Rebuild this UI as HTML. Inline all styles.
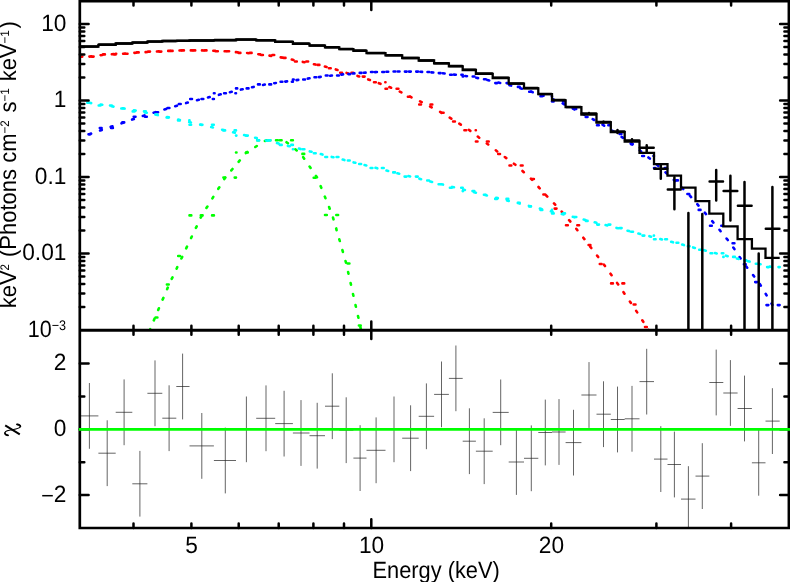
<!DOCTYPE html>
<html><head><meta charset="utf-8"><title>spectrum</title>
<style>html,body{margin:0;padding:0;background:#fff}svg{display:block;will-change:transform}</style></head>
<body>
<svg width="790" height="582" viewBox="0 0 790 582">
<rect width="790" height="582" fill="#fff"/>
<defs><clipPath id="cu"><rect x="79.8" y="1.1" width="709.1" height="329.2"/></clipPath><clipPath id="cl"><rect x="79.8" y="330.3" width="709.1" height="197.7"/></clipPath></defs>
<g clip-path="url(#cu)">
<path d="M89.4 56.6L91.2 56.4M100.6 55.2L102.4 55.0M111.8 54.2L113.6 54.1M123.1 53.7L124.9 53.6M134.4 52.9L136.2 52.7M145.6 52.1L147.4 52.0M156.9 51.5L158.7 51.4M168.2 50.9L170.0 50.9M179.5 50.5L181.3 50.4M190.8 50.4L192.6 50.4M202.0 50.4L203.8 50.5M213.3 50.8L215.1 50.9M224.6 51.2L226.4 51.3M235.9 52.1L237.7 52.2M247.1 53.0L248.9 53.2M258.3 54.2L260.1 54.4M269.5 55.6L271.3 55.9M280.7 57.4L282.5 57.6M291.8 59.5L293.5 59.9M302.8 61.9L304.6 62.3M313.9 64.2L315.6 64.6M324.9 66.6L326.6 67.0M335.8 69.4L337.5 70.0M346.6 72.9L348.3 73.4M357.5 75.9L359.2 76.4M368.2 79.4L369.9 80.0M378.8 83.2L380.5 83.8M389.4 87.1L391.1 87.7M399.8 91.6L401.4 92.4M409.9 96.5L411.5 97.3M420.1 101.4L421.7 102.2M430.1 106.5L431.7 107.4M440.1 111.9L441.6 112.8M449.7 117.7L451.3 118.7M459.3 123.7L460.8 124.7M468.8 129.8L470.3 130.9M477.8 136.6L479.2 137.7M486.8 143.5L488.2 144.5M495.8 150.3L497.2 151.4M504.8 157.0L506.3 158.1M513.9 163.7L515.4 164.8M522.5 171.0L523.8 172.2M530.9 178.6L532.1 179.9M538.5 187.0L539.7 188.3M546.1 195.3L547.3 196.6M554.0 203.4L555.2 204.7M561.7 211.6L562.8 213.0M569.1 220.2L570.3 221.5M576.3 228.8L577.4 230.2M583.3 237.7L584.4 239.1M590.2 246.6L591.3 248.0M597.1 255.6L598.2 257.0M603.9 264.6L605.0 266.0M610.5 273.7L611.6 275.2M617.1 282.9L618.2 284.4M623.5 292.2L624.5 293.7M629.9 301.5L630.9 303.0M636.2 310.9L637.2 312.4M642.3 320.3L643.3 321.8M648.4 329.8L649.4 331.4M654.3 339.5L655.3 341.0M660.2 349.1L661.2 350.6M666.0 358.8L666.9 360.3M671.7 368.5L672.7 370.1M677.6 378.2L678.5 379.7M683.4 387.8L684.4 389.4M689.3 397.5L690.2 399.1M694.9 407.3L695.8 408.8M700.6 417.0L701.5 418.6M706.2 426.8L707.1 428.4M711.9 436.6L712.8 438.1M717.6 446.3L718.5 447.9M723.3 456.1L724.2 457.6M729.1 465.8L730.0 467.3M734.8 475.5L735.7 477.1M740.5 485.2L741.4 486.8M746.3 495.0L747.2 496.5M752.0 504.7L752.9 506.2M757.8 514.4L758.7 515.9M763.4 524.2L764.3 525.7M769.0 534.0L769.9 535.6" stroke="#ff0000" stroke-width="2.6" stroke-linecap="round" fill="none"/>
<path d="M80.5 56.6L82.3 56.6M91.8 56.6L93.6 56.6M103.1 54.4L104.9 54.4M114.4 54.4L115.7 54.4M115.7 53.7L116.2 53.7M125.7 53.7L127.5 53.7M136.9 52.4L138.7 52.4M148.2 51.6L150.0 51.6M159.5 51.6L161.3 51.6M170.8 50.9L172.6 50.9M182.1 50.4L183.9 50.4M193.4 50.4L195.2 50.4M204.7 50.4L206.5 50.4M216.0 51.2L217.8 51.2M227.3 51.2L229.1 51.2M238.6 52.9L240.4 52.9M249.8 52.9L251.6 52.9M261.1 55.0L262.9 55.0M272.4 55.0L274.2 55.0M283.7 57.9L285.5 57.9M295.0 61.5L296.8 61.5M306.3 61.5L308.1 61.5M317.6 64.9L319.4 64.9M328.9 68.3L330.7 68.3M340.2 72.8L342.0 72.8M351.5 72.8L353.3 72.8M362.8 76.6L364.6 76.6M374.0 82.2L375.8 82.2M385.3 82.2L385.5 82.2M385.5 88.8L387.1 88.8M396.6 88.8L398.4 88.8M407.9 96.8L409.7 96.8M419.2 104.5L421.0 104.5M430.5 104.5L432.3 104.5M441.8 112.7L443.6 112.7M453.1 121.5L454.9 121.5M464.4 130.2L466.2 130.2M475.7 130.2L475.9 130.2M475.9 141.5L477.5 141.5M486.9 141.5L488.7 141.5M498.2 154.0L500.0 154.0M509.5 165.5L511.3 165.5M520.8 165.5L522.6 165.5M532.1 179.0L533.9 179.0M543.4 194.5L545.2 194.5M554.7 208.6L556.5 208.6M566.0 225.2L567.8 225.2M577.3 225.2L579.1 225.2M588.6 245.0L590.4 245.0M599.8 264.0L601.6 264.0M611.1 283.4L612.9 283.4M622.4 283.4L624.2 283.4M633.7 304.5L635.5 304.5M645.0 327.0L646.8 327.0M656.3 350.0L658.1 350.0M667.6 373.0L669.4 373.0M678.9 373.0L680.7 373.0M690.2 396.0L692.0 396.0M701.4 420.0L703.2 420.0M712.7 444.0L714.5 444.0M724.0 468.0L725.8 468.0M735.3 468.0L737.1 468.0M746.6 492.0L748.4 492.0M757.9 516.0L759.7 516.0M769.2 540.0L771.0 540.0" stroke="#ff0000" stroke-width="2.6" stroke-linecap="round" fill="none"/>
<path d="M140.9 351.7L141.5 350.0M145.2 341.2L145.9 339.6M149.5 330.8L150.2 329.2M153.8 320.4L154.5 318.7M158.2 310.0L158.9 308.3M162.6 299.6L163.4 297.9M167.1 289.2L167.8 287.6M171.7 278.9L172.5 277.3M176.6 268.7L177.3 267.1M181.4 258.5L182.2 256.9M186.2 248.3L187.0 246.7M191.1 238.1L191.8 236.5M195.9 227.9L196.7 226.3M200.7 217.7L201.5 216.1M206.4 208.0L207.4 206.5M212.4 198.4L213.3 196.9M218.3 188.8L219.3 187.3M224.3 179.2L225.2 177.7M231.3 170.4L232.5 169.0M238.6 161.8L239.8 160.4M245.9 153.1L247.2 152.0M255.3 147.0L256.8 146.0M264.9 141.0L266.5 140.3M276.0 140.2L277.8 140.2M286.5 142.2L287.9 143.3M295.3 149.3L296.7 150.4M303.2 157.2L304.2 158.7M309.6 166.5L310.6 168.0M315.9 175.9L317.0 177.3M320.6 186.1L321.3 187.8M324.8 196.6L325.5 198.2M329.1 207.0L329.7 208.7M333.0 217.6L333.5 219.3M336.2 228.4L336.6 230.2M339.3 239.3L339.8 241.0M342.4 250.1L342.9 251.9M345.5 261.0L346.0 262.7M348.1 272.0L348.5 273.7M350.6 283.0L351.0 284.7M353.0 294.0L353.4 295.8M355.5 305.0L355.9 306.8M358.0 316.0L358.4 317.8M360.4 327.1L360.8 328.8M362.8 338.1L363.2 339.9M365.2 349.1L365.6 350.9M367.5 360.2L367.9 361.9M369.9 371.2L370.3 373.0M372.3 382.2L372.7 384.0M374.7 393.3L375.0 395.0" stroke="#00ff00" stroke-width="2.6" stroke-linecap="round" fill="none"/>
<path d="M133.1 354.0L134.9 354.0M144.3 354.0L146.1 354.0M155.6 317.5L157.4 317.5M166.9 284.5L168.7 284.5M178.2 256.0L180.0 256.0M189.5 215.4L191.3 215.4M200.8 215.4L202.6 215.4M212.1 215.4L213.9 215.4M223.4 177.6L225.2 177.6M234.7 177.6L236.0 177.6M236.0 152.5L236.5 152.5M246.0 152.5L247.8 152.5M257.2 140.3L259.0 140.3M268.5 140.3L270.3 140.3M279.8 140.2L281.6 140.2M291.1 140.2L292.9 140.2M302.4 153.9L304.2 153.9M313.7 177.7L315.5 177.7M325.0 215.0L326.8 215.0M336.3 215.0L338.1 215.0M347.6 263.5L349.4 263.5M358.9 325.5L360.7 325.5M370.2 400.0L372.0 400.0M381.4 400.0L383.2 400.0" stroke="#00ff00" stroke-width="2.6" stroke-linecap="round" fill="none"/>
<path d="M89.4 134.2L91.1 133.6M100.1 130.5L101.8 129.9M110.7 126.8L112.5 126.3M121.5 123.3L123.2 122.7M132.1 119.6L133.8 119.0M142.8 115.9L144.5 115.4M153.6 112.7L155.4 112.2M164.4 109.4L166.2 108.9M175.2 106.2L177.0 105.7M186.1 103.1L187.8 102.6M197.0 100.2L198.8 99.8M208.0 97.5L209.7 97.0M218.9 94.8L220.7 94.3M229.9 92.2L231.7 91.8M240.9 89.6L242.7 89.2M252.0 87.3L253.7 86.9M263.0 85.0L264.8 84.6M274.2 83.2L275.9 83.0M285.3 81.6L287.1 81.4M296.5 80.1L298.3 79.9M307.7 78.6L309.5 78.3M318.9 77.1L320.7 76.9M330.1 75.8L331.9 75.5M341.3 74.6L343.1 74.4M352.6 73.5L354.4 73.4M363.8 72.7L365.6 72.6M375.1 72.1L376.9 72.0M386.4 71.7L388.2 71.7M397.7 71.5L399.5 71.5M409.0 71.6L410.8 71.6M420.3 71.8L422.1 71.9M431.5 72.4L433.3 72.5M442.8 73.3L444.6 73.5M454.0 74.6L455.8 74.8M465.2 76.0L467.0 76.2M476.3 77.8L478.1 78.1M487.4 80.0L489.2 80.4M498.4 82.6L500.2 83.0M509.4 85.2L511.1 85.6M520.3 88.2L522.0 88.7M531.0 91.6L532.7 92.2M541.8 95.1L543.5 95.7M552.4 99.0L554.0 99.6M562.7 103.4L564.3 104.3M572.8 108.6L574.4 109.4M582.8 113.8L584.4 114.6M592.7 119.1L594.3 120.0M602.5 124.7L604.1 125.7M612.1 130.7L613.7 131.6M621.6 136.9L623.1 137.9M630.8 143.3L632.3 144.4M639.7 150.3L641.1 151.5M648.4 157.5L649.8 158.6M657.0 164.8L658.4 166.0M665.5 172.3L666.8 173.5M673.8 179.9L675.1 181.1M681.9 187.7L683.2 189.0M689.9 195.7L691.1 197.1M697.3 204.2L698.5 205.6M704.8 212.7L706.0 214.1M712.2 221.2L713.4 222.6M719.5 229.8L720.6 231.2M726.6 238.6L727.8 240.0M733.3 247.6L734.4 249.1M739.6 257.0L740.6 258.5M746.1 266.3L747.2 267.7M753.1 275.1L754.2 276.5M759.9 284.1L760.8 285.7M765.7 293.8L766.6 295.4M771.5 303.5L772.4 305.0" stroke="#0000ff" stroke-width="2.6" stroke-linecap="round" fill="none"/>
<path d="M88.5 134.2L90.3 134.2M99.8 128.0L101.6 128.0M111.1 128.0L112.9 128.0M122.4 122.4L124.2 122.4M133.7 116.8L135.5 116.8M145.0 116.8L146.8 116.8M156.3 112.3L158.1 112.3M167.6 108.0L169.4 108.0M178.9 104.0L180.7 104.0M190.2 99.0L192.0 99.0M201.5 99.0L203.3 99.0M212.8 99.0L213.9 99.0M213.9 93.2L214.6 93.2M224.1 93.2L225.9 93.2M235.4 93.2L236.0 93.2M236.0 88.4L237.2 88.4M246.7 88.4L248.5 88.4M258.0 84.4L259.8 84.4M269.3 84.4L271.1 84.4M280.6 81.8L282.4 81.8M291.9 81.8L292.9 81.8M292.9 79.5L293.7 79.5M303.2 79.5L305.0 79.5M314.5 77.3L316.3 77.3M325.8 75.5L327.6 75.5M337.1 75.5L338.9 75.5M348.4 74.1L350.2 74.1M359.7 72.9L361.5 72.9M371.0 72.0L372.8 72.0M382.3 72.0L384.1 72.0M393.6 71.5L395.4 71.5M404.9 71.6L406.7 71.6M416.2 71.6L418.0 71.6M427.5 72.0L429.3 72.0M438.8 73.1L440.6 73.1M450.1 74.8L451.9 74.8M461.4 74.8L462.7 74.8M462.7 76.5L463.2 76.5M472.7 76.5L474.5 76.5M484.0 79.3L485.8 79.3M495.3 83.1L497.1 83.1M506.6 83.1L508.4 83.1M517.9 86.9L519.7 86.9M529.2 91.7L531.0 91.7M540.5 96.3L542.3 96.3M551.8 96.3L552.0 96.3M552.0 101.5L553.6 101.5M563.1 101.5L564.9 101.5M574.4 109.0L576.2 109.0M585.7 117.0L587.5 117.0M597.0 125.3L598.8 125.3M608.3 125.3L610.1 125.3M619.6 134.0L621.4 134.0M630.9 144.1L632.7 144.1M642.2 156.0L644.0 156.0M653.5 156.0L654.0 156.0M654.0 168.0L655.3 168.0M664.8 168.0L666.6 168.0M676.1 180.4L677.9 180.4M687.4 194.0L689.2 194.0M698.7 209.9L700.5 209.9M710.0 225.8L711.8 225.8M721.3 225.8L723.1 225.8M732.6 243.2L734.4 243.2M743.9 264.2L745.7 264.2M755.2 282.1L757.0 282.1M766.5 305.1L768.3 305.1M777.8 305.1L779.6 305.1" stroke="#0000ff" stroke-width="2.6" stroke-linecap="round" fill="none"/>
<path d="M89.4 102.8L91.2 103.1M100.6 104.5L102.3 104.8M111.7 106.3L113.5 106.6M122.8 108.2L124.6 108.6M133.9 110.3L135.7 110.6M145.0 112.5L146.8 112.8M156.1 114.7L157.8 115.1M167.1 117.1L168.9 117.4M178.2 119.5L179.9 119.9M189.2 122.0L190.9 122.4M200.2 124.5L201.9 124.9M211.2 127.1L212.9 127.5M222.1 129.7L223.9 130.1M233.1 132.3L234.9 132.7M244.1 135.0L245.8 135.4M255.1 137.7L256.8 138.1M266.0 140.4L267.8 140.8M277.0 143.1L278.7 143.6M287.9 145.9L289.7 146.3M298.9 148.6L300.6 149.1M309.8 151.4L311.6 151.8M320.8 154.1L322.5 154.6M331.7 156.9L333.5 157.3M342.7 159.6L344.4 160.1M353.6 162.4L355.4 162.8M364.6 165.1L366.3 165.5M375.5 167.8L377.3 168.3M386.5 170.6L388.2 171.0M397.4 173.3L399.2 173.7M408.4 176.0L410.1 176.5M419.4 178.7L421.1 179.2M430.3 181.5L432.1 181.9M441.3 184.2L443.0 184.6M452.2 186.9L454.0 187.3M463.2 189.6L464.9 190.0M474.2 192.3L475.9 192.7M485.1 195.0L486.9 195.4M496.1 197.7L497.8 198.1M507.0 200.4L508.8 200.9M518.0 203.1L519.7 203.6M528.9 205.9L530.7 206.3M539.9 208.6L541.6 209.0M550.9 211.3L552.6 211.8M561.8 214.1L563.6 214.5M572.8 216.8L574.5 217.2M583.7 219.6L585.5 220.0M594.7 222.3L596.4 222.8M605.6 225.1L607.3 225.5M616.5 227.9L618.3 228.3M627.5 230.7L629.2 231.1M638.4 233.5L640.2 233.9M649.4 236.2L651.1 236.7M660.3 239.0L662.0 239.5M671.2 241.8L673.0 242.3M682.2 244.6L683.9 245.1M693.1 247.4L694.9 247.9M704.1 250.2L705.8 250.7M715.0 253.0L716.7 253.4M726.0 255.7L727.7 256.2M736.9 258.5L738.7 258.9M747.9 261.2L749.6 261.6M758.8 263.9L760.6 264.3M769.8 266.5L771.6 266.9" stroke="#00ffff" stroke-width="2.6" stroke-linecap="round" fill="none"/>
<path d="M87.3 102.8L89.1 102.8M98.7 105.5L100.5 105.5M110.0 105.5L111.8 105.5M121.3 108.5L123.1 108.5M132.7 111.4L134.5 111.4M144.0 111.4L145.8 111.4M155.3 114.5L157.1 114.5M166.6 117.5L168.4 117.5M178.0 120.4L179.8 120.4M189.3 120.4L189.5 120.4M189.5 124.8L191.1 124.8M200.6 124.8L202.4 124.8M212.0 124.8L213.8 124.8M223.3 130.4L225.1 130.4M234.6 130.4L236.0 130.4M236.0 135.6L236.4 135.6M246.0 135.6L247.8 135.6M257.3 140.4L259.1 140.4M268.6 140.4L270.4 140.4M279.9 144.9L281.7 144.9M291.3 144.9L292.9 144.9M292.9 149.2L293.1 149.2M302.6 149.2L304.4 149.2M313.9 153.2L315.7 153.2M325.3 157.0L327.1 157.0M336.6 157.0L338.4 157.0M347.9 160.5L349.7 160.5M359.2 164.0L361.1 164.0M370.6 168.0L372.4 168.0M381.9 168.0L383.7 168.0M393.2 172.4L395.0 172.4M404.6 176.6L406.4 176.6M415.9 176.6L417.7 176.6M427.2 180.5L429.0 180.5M438.6 184.2L440.4 184.2M449.9 187.8L451.7 187.8M461.2 187.8L462.7 187.8M462.7 191.1L463.0 191.1M472.5 191.1L474.3 191.1M483.9 194.8L485.7 194.8M495.2 198.9L497.0 198.9M506.5 198.9L508.3 198.9M517.9 202.7L519.7 202.7M529.2 206.4L531.0 206.4M540.5 209.9L542.3 209.9M551.9 209.9L552.0 209.9M552.0 213.4L553.7 213.4M563.2 213.4L565.0 213.4M574.5 217.0L576.3 217.0M585.9 220.9L587.6 220.9M597.2 224.6L599.0 224.6M608.5 224.6L610.3 224.6M619.8 228.1L621.6 228.1M631.2 231.8L633.0 231.8M642.5 235.6L644.3 235.6M653.8 235.6L654.0 235.6M654.0 239.2L655.6 239.2M665.2 239.2L667.0 239.2M676.5 242.7L678.3 242.7M687.8 246.2L689.6 246.2M699.2 249.8L701.0 249.8M710.5 253.3L712.3 253.3M721.8 253.3L723.3 253.3M723.3 256.9L723.6 256.9M733.1 256.9L734.9 256.9M744.5 260.4L746.3 260.4M755.8 263.8L757.6 263.8M767.1 267.1L768.9 267.1M778.5 267.1L779.7 267.1" stroke="#00ffff" stroke-width="2.6" stroke-linecap="round" fill="none"/>
</g>
<g clip-path="url(#cu)" stroke="#000" fill="none">
<path d="M80.0 46.7H98.4V44.8H115.7V43.5H132.3V42.6H147.4V41.6H162.3V41.0H176.3V40.9H189.5V40.5H213.9V40.3H236.0V39.7H256.2V40.4H275.2V41.9H292.9V43.8H309.5V45.7H325.0V47.4H339.3V49.2H353.4V50.8H366.5V53.2H385.5V55.4H402.2V58.0H418.7V60.5H434.1V63.4H448.9V66.3H462.7V70.0H475.9V73.8H492.7V78.0H508.7V83.7H524.0V88.3H538.3V94.2H552.0V100.3H565.6V107.2H581.4V114.5H596.5V122.5H610.8V132.2H624.7V141.6H639.5V152.9H654.0V164.2H667.5V175.6H681.0V187.7H695.5V201.1H709.3V213.7H723.3V226.3H737.6V239.2H751.9V248.7H765.5V257.9H779.7" stroke-width="2.3" stroke-linejoin="miter"/>
<path d="M581.7 113.4H596.2M589.0 113.0V113.8M596.8 122.0H610.5M603.5 121.6V122.4M611.1 131.5H624.4M617.5 130.1V133.0M625.0 140.4H639.2M632.0 139.3V141.6M639.8 147.8H653.7M646.7 145.3V151.9M654.3 168.7H667.2M660.8 164.4V178.7M667.8 189.4H680.7M674.4 177.2V209.2M688.4 213.0V339.0M702.3 214.0V339.0M709.6 181.6H723.0M716.2 170.1V200.6M723.6 191.1H737.3M730.4 175.8V220.6M737.9 205.8H751.6M744.5 182.1V339.0M758.7 253.5V339.0M765.8 228.7H779.4M772.4 186.9V339.0M80.6 46.6H97.8M99.0 44.6H115.1M116.3 43.4H131.7M132.9 42.5H146.8M148.0 41.5H161.7M162.9 40.9H175.7M176.9 40.8H188.9M190.1 40.4H213.3M214.5 40.1H235.4M236.6 39.6H255.6M256.8 40.2H274.6M275.8 41.8H292.3M293.5 43.6H308.9M310.1 45.6H324.4M325.6 47.2H338.7M339.9 49.1H352.8M354.0 50.6H365.9M367.1 53.1H384.9M386.1 55.2H401.6M402.8 57.9H418.1M419.3 60.4H433.5M434.7 63.2H448.3M449.5 66.1H462.1M463.3 69.8H475.3M476.5 73.6H492.1M493.3 77.8H508.1M509.3 83.5H523.4M524.6 88.1H537.7M538.9 94.0H551.4M552.6 100.1H565.0M566.2 107.0H580.8" stroke-width="2.5" stroke-linecap="round"/>
</g>
<g clip-path="url(#cl)" stroke="#222" stroke-width="0.7" fill="none">
<path d="M80.0 415.9H98.4M89.4 383.0V448.8M98.4 453.2H115.7M107.2 420.3V486.1M115.7 412.3H132.3M124.1 379.4V445.2M132.3 483.8H147.4M139.9 450.9V516.6M147.4 393.3H162.3M155.0 360.4V426.2M162.3 418.2H176.3M169.1 385.3V451.1M176.3 386.5H189.5M182.6 353.6V419.4M189.5 445.9H213.9M201.8 413.0V478.8M213.9 460.5H236.0M225.3 427.6V493.4M236.0 429.4H256.2M246.4 396.5V462.2M256.2 418.3H275.2M266.0 385.4V451.2M275.2 423.6H292.9M284.1 390.8V456.5M292.9 433.0H309.5M301.0 400.1V465.9M309.5 435.7H325.0M317.2 402.8V468.6M325.0 406.2H339.3M332.3 373.3V439.1M339.3 430.2H353.4M346.2 397.3V463.1M353.4 458.1H366.5M360.1 425.2V491.0M366.5 450.3H385.5M376.1 417.4V483.2M385.5 429.4H402.2M394.0 396.5V462.2M402.2 438.2H418.7M410.6 405.3V471.1M418.7 416.3H434.1M426.4 383.4V449.2M434.1 394.4H448.9M441.5 361.5V427.2M448.9 378.4H462.7M455.9 345.5V411.2M462.7 441.2H475.9M469.4 408.3V474.1M475.9 451.2H492.7M484.2 418.3V484.1M492.7 412.4H508.7M500.7 379.5V445.2M508.7 462.0H524.0M516.4 429.1V494.9M524.0 458.3H538.3M531.3 425.4V491.2M538.3 432.5H552.0M545.3 399.6V465.4M552.0 432.0H565.6M559.0 399.1V464.9M565.6 442.6H581.4M573.5 409.8V475.5M581.4 395.0H596.5M589.0 362.1V427.9M596.5 414.2H610.8M603.5 381.3V447.1M610.8 419.5H624.7M617.5 386.6V452.4M624.7 418.8H639.5M632.0 385.9V451.7M639.5 381.6H654.0M646.7 348.8V414.5M654.0 459.1H667.5M660.8 426.2V492.0M667.5 464.5H681.0M674.4 431.6V497.4M681.0 499.1H695.5M688.4 466.2V532.0M695.5 476.1H709.3M702.3 443.2V509.0M709.3 382.5H723.3M716.2 349.6V415.4M723.3 393.0H737.6M730.4 360.1V425.9M737.6 408.5H751.9M744.5 375.6V441.4M751.9 462.8H765.5M758.7 429.9V495.7M765.5 421.1H779.7M772.4 388.2V454.0"/>
</g>
<g stroke="#000" fill="none" stroke-width="2.7">
<path d="M79.8 1.1H788.9V528.0H79.8Z" stroke-linejoin="miter"/><path d="M79.8 330.3H788.9" stroke-width="3.0"/>
</g>
<path d="M133.5 1.1v4.5M133.5 325.8v9.0M133.5 528.0v-4.5M191.4 1.1v4.5M191.4 325.8v9.0M191.4 528.0v-4.5M238.7 1.1v4.5M238.7 325.8v9.0M238.7 528.0v-4.5M278.7 1.1v4.5M278.7 325.8v9.0M278.7 528.0v-4.5M313.4 1.1v4.5M313.4 325.8v9.0M313.4 528.0v-4.5M344.0 1.1v4.5M344.0 325.8v9.0M344.0 528.0v-4.5M551.2 1.1v4.5M551.2 325.8v9.0M551.2 528.0v-4.5M656.4 1.1v4.5M656.4 325.8v9.0M656.4 528.0v-4.5M731.1 1.1v4.5M731.1 325.8v9.0M731.1 528.0v-4.5M371.3 1.1v8.8M371.3 321.5v17.6M371.3 528.0v-8.8M79.8 307.1h4.5M788.9 307.1h-4.5M79.8 293.6h4.5M788.9 293.6h-4.5M79.8 284.0h4.5M788.9 284.0h-4.5M79.8 276.6h4.5M788.9 276.6h-4.5M79.8 270.6h4.5M788.9 270.6h-4.5M79.8 265.4h4.5M788.9 265.4h-4.5M79.8 261.0h4.5M788.9 261.0h-4.5M79.8 257.1h4.5M788.9 257.1h-4.5M79.8 253.6h8.8M788.9 253.6h-8.8M79.8 230.6h4.5M788.9 230.6h-4.5M79.8 217.1h4.5M788.9 217.1h-4.5M79.8 207.5h4.5M788.9 207.5h-4.5M79.8 200.1h4.5M788.9 200.1h-4.5M79.8 194.1h4.5M788.9 194.1h-4.5M79.8 188.9h4.5M788.9 188.9h-4.5M79.8 184.5h4.5M788.9 184.5h-4.5M79.8 180.6h4.5M788.9 180.6h-4.5M79.8 177.1h8.8M788.9 177.1h-8.8M79.8 154.1h4.5M788.9 154.1h-4.5M79.8 140.6h4.5M788.9 140.6h-4.5M79.8 131.0h4.5M788.9 131.0h-4.5M79.8 123.6h4.5M788.9 123.6h-4.5M79.8 117.6h4.5M788.9 117.6h-4.5M79.8 112.4h4.5M788.9 112.4h-4.5M79.8 108.0h4.5M788.9 108.0h-4.5M79.8 104.1h4.5M788.9 104.1h-4.5M79.8 100.6h8.8M788.9 100.6h-8.8M79.8 77.6h4.5M788.9 77.6h-4.5M79.8 64.1h4.5M788.9 64.1h-4.5M79.8 54.5h4.5M788.9 54.5h-4.5M79.8 47.1h4.5M788.9 47.1h-4.5M79.8 41.1h4.5M788.9 41.1h-4.5M79.8 35.9h4.5M788.9 35.9h-4.5M79.8 31.5h4.5M788.9 31.5h-4.5M79.8 27.6h4.5M788.9 27.6h-4.5M79.8 24.1h8.8M788.9 24.1h-8.8M79.8 495.0h8.8M788.9 495.0h-8.8M79.8 462.2h4.5M788.9 462.2h-4.5M79.8 429.3h8.8M788.9 429.3h-8.8M79.8 396.4h4.5M788.9 396.4h-4.5M79.8 363.6h8.8M788.9 363.6h-8.8" stroke="#000" stroke-width="2.5" stroke-linecap="round" fill="none"/>
<path d="M78.8 429.4H790" stroke="#00ff00" stroke-width="2.8" fill="none"/>
<g font-family="Liberation Sans, sans-serif" font-size="23.5" fill="#000" text-rendering="geometricPrecision">
<text transform="translate(66.4 30.9) scale(0.965 1)" text-anchor="end">10</text>
<text transform="translate(66.4 107.4) scale(0.965 1)" text-anchor="end">1</text>
<text transform="translate(66.4 183.9) scale(0.965 1)" text-anchor="end">0.1</text>
<text transform="translate(66.4 260.4) scale(0.965 1)" text-anchor="end">0.01</text>
<text transform="translate(27.8 337.1) scale(0.915 1)" text-anchor="start">10<tspan font-size="13.8" dy="-7">−3</tspan></text>
<text transform="translate(66.4 370.4) scale(0.965 1)" text-anchor="end">2</text>
<text transform="translate(66.4 436.1) scale(0.965 1)" text-anchor="end">0</text>
<text transform="translate(66.4 501.8) scale(0.965 1)" text-anchor="end">2</text>
<path d="M42.2 495.7H52.8" stroke="#000" stroke-width="1.5"/>
<text transform="translate(191.6 552.6) scale(0.965 1)" text-anchor="middle">5</text>
<text transform="translate(371.5 552.6) scale(0.965 1)" text-anchor="middle">10</text>
<text transform="translate(551.4 552.6) scale(0.965 1)" text-anchor="middle">20</text>
<text transform="translate(436.1 577.8) scale(0.928 1)" text-anchor="middle">Energy (keV)</text>
<text transform="translate(16.2 308.3) rotate(-90) scale(0.936 1)" text-anchor="start">keV<tspan font-size="12.4" dy="-7.3">2</tspan><tspan dy="7.3" dx="0.9"> (Photons cm</tspan><tspan font-size="12.4" dy="-7.3">−2</tspan><tspan dy="7.3" dx="1.8"> s</tspan><tspan font-size="12.4" dy="-7.3">−1</tspan><tspan dy="7.3" dx="0.8"> keV</tspan><tspan font-size="12.4" dy="-7.3">−1</tspan><tspan dy="7.3" dx="1.8">)</tspan></text>
</g>
<path d="M5.2 425.4L19.8 434.3" stroke="#000" stroke-width="2.0" fill="none"/>
<path d="M8.0 435.4C5.4 435.1 4.2 433 5.5 431.6C6.8 430.4 10 430.2 12.4 429.7C15.5 429 18.7 428.4 19.9 427.3C21.1 426.2 20.1 424.8 17.0 424.4" stroke="#000" stroke-width="1.15" fill="none" stroke-linecap="round"/>
<path d="M8.0 435.4C6.2 435.2 5.0 434.2 4.9 433.0M20.4 426.4C20.3 425.3 19 424.6 17.0 424.4" stroke="#000" stroke-width="1.7" fill="none" stroke-linecap="round"/>
</svg>
</body></html>
